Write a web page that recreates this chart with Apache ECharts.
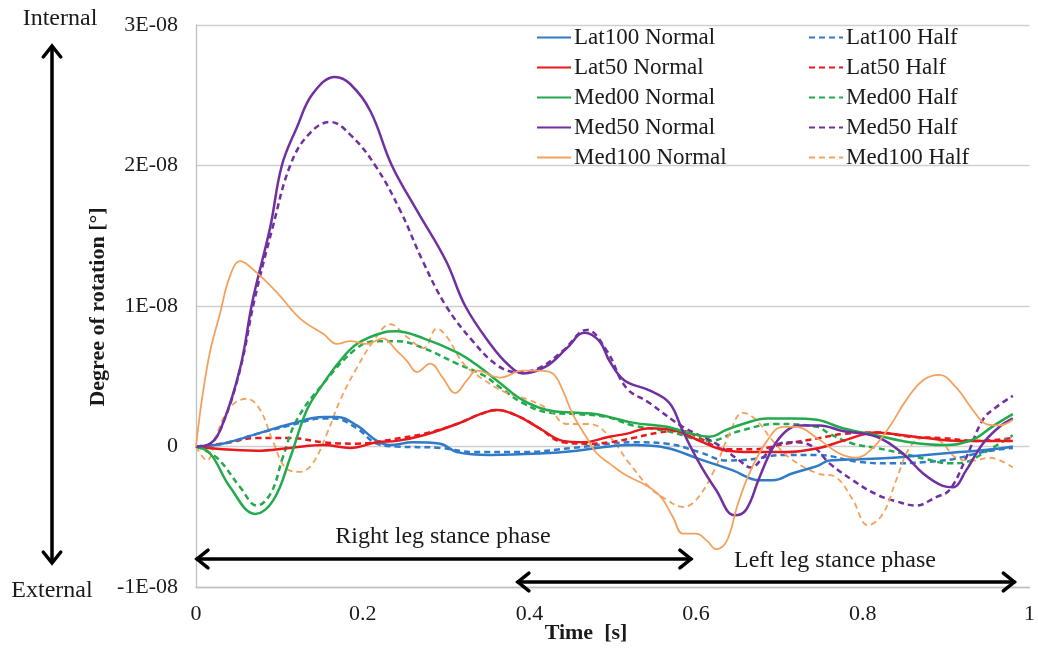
<!DOCTYPE html>
<html>
<head>
<meta charset="utf-8">
<script src="https://cdn.jsdelivr.net/npm/echarts@6/dist/echarts.min.js"></script>
<style>
html,body{margin:0;padding:0;background:#fff;}
#chart{width:1038px;height:650px;}
</style>
</head>
<body>
<div id="chart"></div>
<script>
// Values: time [s], rotation in units of 1E-08 degrees
const yTickLabels = ['-1E-08', '0', '1E-08', '2E-08', '3E-08'];
const xTickLabels = ['0', '0.2', '0.4', '0.6', '0.8', '1'];

const lat100Normal = [[0,0],[0.032,0.02],[0.073,0.09],[0.113,0.16],[0.153,0.21],[0.169,0.21],[0.193,0.15],[0.217,0.04],[0.233,0.01],[0.26,0.03],[0.293,0.02],[0.313,-0.04],[0.353,-0.06],[0.412,-0.05],[0.457,-0.03],[0.496,0.0],[0.524,0.01],[0.565,-0.01],[0.604,-0.09],[0.644,-0.17],[0.676,-0.24],[0.692,-0.24],[0.716,-0.19],[0.745,-0.14],[0.76,-0.10],[0.796,-0.09],[0.836,-0.08],[0.876,-0.06],[0.916,-0.04],[0.955,-0.02],[0.98,0.0]];
const lat100Half = [[0,0],[0.032,0.02],[0.073,0.09],[0.113,0.15],[0.153,0.20],[0.165,0.20],[0.193,0.13],[0.217,0.02],[0.241,0.0],[0.293,-0.01],[0.332,-0.04],[0.392,-0.04],[0.452,-0.01],[0.496,0.02],[0.524,0.03],[0.565,0.02],[0.604,-0.04],[0.637,-0.10],[0.668,-0.09],[0.704,-0.06],[0.745,-0.06],[0.796,-0.11],[0.836,-0.12],[0.876,-0.11],[0.908,-0.09],[0.944,-0.04],[0.98,-0.01]];
const lat50Normal = [[0,0],[0.032,-0.02],[0.073,-0.03],[0.113,-0.01],[0.153,0.01],[0.185,-0.01],[0.217,0.03],[0.241,0.04],[0.273,0.08],[0.313,0.16],[0.341,0.23],[0.361,0.26],[0.385,0.22],[0.412,0.13],[0.44,0.04],[0.464,0.03],[0.496,0.07],[0.516,0.09],[0.544,0.13],[0.577,0.11],[0.604,0.04],[0.637,-0.03],[0.668,-0.04],[0.708,-0.04],[0.748,-0.01],[0.776,0.04],[0.816,0.10],[0.848,0.08],[0.876,0.06],[0.916,0.04],[0.955,0.04],[0.98,0.04]];
const lat50Half = [[0,0],[0.032,0.02],[0.073,0.06],[0.113,0.06],[0.153,0.03],[0.193,0.02],[0.224,0.04],[0.245,0.06],[0.273,0.09],[0.313,0.16],[0.341,0.23],[0.361,0.26],[0.385,0.22],[0.412,0.13],[0.44,0.03],[0.472,0.02],[0.496,0.03],[0.524,0.06],[0.556,0.10],[0.584,0.11],[0.604,0.06],[0.637,-0.02],[0.668,-0.02],[0.708,0.02],[0.748,0.06],[0.776,0.09],[0.816,0.10],[0.856,0.07],[0.896,0.06],[0.936,0.04],[0.98,0.06]];
const med00Normal = [[0,0],[0.017,-0.05],[0.041,-0.29],[0.071,-0.48],[0.093,-0.38],[0.113,-0.08],[0.133,0.26],[0.153,0.45],[0.173,0.61],[0.193,0.73],[0.224,0.81],[0.24,0.82],[0.273,0.77],[0.313,0.67],[0.337,0.58],[0.365,0.45],[0.392,0.33],[0.421,0.26],[0.457,0.24],[0.481,0.23],[0.524,0.17],[0.565,0.14],[0.589,0.10],[0.616,0.07],[0.637,0.12],[0.656,0.16],[0.685,0.20],[0.716,0.20],[0.745,0.19],[0.776,0.13],[0.816,0.08],[0.856,0.03],[0.896,0.01],[0.916,0.02],[0.936,0.06],[0.955,0.14],[0.98,0.23]];
const med00Half = [[0,0],[0.025,-0.08],[0.053,-0.29],[0.073,-0.42],[0.09,-0.33],[0.104,-0.08],[0.121,0.19],[0.153,0.45],[0.193,0.70],[0.217,0.75],[0.241,0.75],[0.273,0.70],[0.313,0.59],[0.344,0.51],[0.365,0.42],[0.392,0.31],[0.424,0.24],[0.457,0.23],[0.493,0.21],[0.524,0.15],[0.565,0.11],[0.616,0.04],[0.652,0.11],[0.696,0.16],[0.745,0.14],[0.76,0.09],[0.788,0.02],[0.816,-0.01],[0.848,-0.05],[0.876,-0.09],[0.904,-0.12],[0.924,-0.11],[0.944,-0.05],[0.964,0.02],[0.98,0.08]];
const med50Normal = [[0,0],[0.017,0.02],[0.032,0.16],[0.053,0.56],[0.068,1.04],[0.089,1.56],[0.103,2.0],[0.121,2.27],[0.14,2.51],[0.167,2.63],[0.185,2.58],[0.209,2.39],[0.235,2.0],[0.265,1.68],[0.30,1.32],[0.323,1.0],[0.353,0.73],[0.375,0.58],[0.392,0.52],[0.42,0.57],[0.445,0.70],[0.466,0.81],[0.484,0.75],[0.496,0.61],[0.514,0.47],[0.544,0.40],[0.568,0.31],[0.584,0.11],[0.604,-0.12],[0.624,-0.31],[0.646,-0.49],[0.66,-0.45],[0.676,-0.22],[0.692,-0.01],[0.708,0.11],[0.724,0.15],[0.748,0.15],[0.776,0.11],[0.816,0.07],[0.848,-0.05],[0.872,-0.19],[0.896,-0.28],[0.908,-0.29],[0.924,-0.17],[0.944,0.02],[0.964,0.14],[0.98,0.20]];
const med50Half = [[0,0],[0.017,0.02],[0.032,0.16],[0.053,0.55],[0.07,1.04],[0.092,1.56],[0.113,2.0],[0.135,2.22],[0.161,2.31],[0.185,2.22],[0.215,2.0],[0.245,1.68],[0.272,1.32],[0.30,1.0],[0.332,0.75],[0.361,0.58],[0.385,0.53],[0.412,0.56],[0.44,0.68],[0.469,0.83],[0.493,0.68],[0.516,0.42],[0.544,0.31],[0.584,0.14],[0.624,0.02],[0.652,-0.10],[0.666,-0.15],[0.68,-0.08],[0.696,0.01],[0.716,0.03],[0.74,0.0],[0.76,-0.12],[0.788,-0.24],[0.816,-0.34],[0.84,-0.39],[0.864,-0.42],[0.888,-0.36],[0.904,-0.31],[0.924,-0.08],[0.944,0.19],[0.96,0.28],[0.98,0.36]];
const med100Normal = [[0,0],[0.007,0.33],[0.017,0.68],[0.029,0.95],[0.04,1.2],[0.053,1.32],[0.074,1.23],[0.098,1.09],[0.125,0.91],[0.153,0.80],[0.169,0.73],[0.185,0.75],[0.205,0.73],[0.224,0.77],[0.241,0.68],[0.253,0.61],[0.265,0.53],[0.281,0.59],[0.296,0.49],[0.311,0.38],[0.325,0.47],[0.337,0.54],[0.365,0.49],[0.392,0.54],[0.412,0.54],[0.428,0.52],[0.44,0.40],[0.452,0.23],[0.469,0.06],[0.481,-0.05],[0.496,-0.12],[0.512,-0.19],[0.553,-0.33],[0.572,-0.50],[0.584,-0.62],[0.60,-0.62],[0.613,-0.67],[0.624,-0.73],[0.637,-0.67],[0.649,-0.43],[0.664,-0.19],[0.685,0.04],[0.704,0.14],[0.72,0.14],[0.745,0.06],[0.772,-0.05],[0.792,-0.08],[0.812,-0.01],[0.832,0.14],[0.852,0.33],[0.872,0.47],[0.892,0.51],[0.912,0.42],[0.932,0.26],[0.948,0.16],[0.964,0.15],[0.98,0.19]];
const med100Half = [[0,0],[0.013,-0.10],[0.025,0.09],[0.041,0.28],[0.061,0.34],[0.077,0.26],[0.092,0.04],[0.109,-0.16],[0.125,-0.18],[0.14,-0.12],[0.157,0.09],[0.173,0.33],[0.193,0.56],[0.213,0.75],[0.233,0.87],[0.253,0.78],[0.273,0.70],[0.289,0.84],[0.301,0.78],[0.321,0.59],[0.344,0.48],[0.373,0.38],[0.40,0.33],[0.424,0.26],[0.445,0.16],[0.472,0.16],[0.493,0.09],[0.52,-0.12],[0.544,-0.29],[0.565,-0.38],[0.584,-0.43],[0.60,-0.38],[0.62,-0.19],[0.64,0.09],[0.656,0.24],[0.672,0.19],[0.692,0.04],[0.712,-0.08],[0.745,-0.19],[0.768,-0.22],[0.788,-0.38],[0.806,-0.56],[0.824,-0.48],[0.84,-0.24],[0.856,-0.01],[0.872,0.06],[0.892,0.04],[0.912,-0.08],[0.932,-0.10],[0.952,-0.08],[0.98,-0.15]];

const seriesNames = ['Lat100 Normal','Lat50 Normal','Med00 Normal','Med50 Normal','Med100 Normal',
                     'Lat100 Half','Lat50 Half','Med00 Half','Med50 Half','Med100 Half'];
const seriesData = [lat100Normal, lat50Normal, med00Normal, med50Normal, med100Normal,
                    lat100Half, lat50Half, med00Half, med50Half, med100Half];
const colors = ['#2F7BC8','#E8191D','#22AA4C','#7030A0','#F4A15C'];
const widths = [2.5, 2.5, 2.5, 2.5, 1.8];

const FONT = '"Liberation Serif", "Times New Roman", serif';

const chart = echarts.init(document.getElementById('chart'), null, {renderer: 'canvas'});

const series = seriesData.map((d, i) => {
  const k = i % 5;
  const dashed = i >= 5;
  return {
    name: seriesNames[i],
    type: 'line',
    data: d,
    smooth: 0.4,
    symbol: 'none',
    showSymbol: false,
    z: dashed ? 3 : 4,
    lineStyle: {color: colors[k], width: widths[k], type: dashed ? [6, 4] : 'solid'},
    itemStyle: {color: colors[k]},
    emphasis: {disabled: true}
  };
});

const legendCommon = {
  orient: 'vertical',
  top: 26,
  padding: 0,
  itemWidth: 34,
  itemHeight: 20,
  itemGap: 7,
  itemStyle: {opacity: 0},
  textStyle: {fontFamily: FONT, fontSize: 23, color: '#1a1a1a', padding: [0,0,0,-2]},
  selectedMode: false
};

const option = {
  animation: false,
  backgroundColor: '#fff',
  grid: {left: 196, right: 8, top: 25, bottom: 63, containLabel: false},
  legend: [
    Object.assign({}, legendCommon, {left: 536, data: seriesNames.slice(0,5)}),
    Object.assign({}, legendCommon, {left: 808, data: seriesNames.slice(5)})
  ],
  xAxis: {
    type: 'value', min: 0, max: 1, interval: 0.2,
    axisLine: {onZero: false, lineStyle: {color: '#bfbfbf', width: 1.3}},
    axisTick: {show: false},
    splitLine: {show: false},
    axisLabel: {fontFamily: FONT, fontSize: 22, color: '#1a1a1a', margin: 16,
      formatter: v => xTickLabels[Math.round(v / 0.2)]}
  },
  yAxis: {
    type: 'value', min: -1, max: 3, interval: 1,
    axisLine: {show: true, lineStyle: {color: '#bfbfbf', width: 1.3}},
    axisTick: {show: false},
    splitLine: {lineStyle: {color: '#cfcfcf', width: 1.3}},
    axisLabel: {fontFamily: FONT, fontSize: 22, color: '#1a1a1a', margin: 18,
      formatter: v => yTickLabels[Math.round(v) + 1]}
  },
  series: series
};
chart.setOption(option);

function chevron(x, y, dir, size, vertical) {
  if (!vertical) {
    return [[x - dir * size, y - size * 0.8], [x, y], [x - dir * size, y + size * 0.8]];
  }
  return [[x - size * 0.8, y - dir * size], [x, y], [x + size * 0.8, y - dir * size]];
}
const stroke = {stroke: '#000', lineWidth: 3.5, lineCap: 'round', lineJoin: 'miter', fill: null};

function hArrow(t0, t1, py) {
  const x0 = chart.convertToPixel({gridIndex: 0}, [t0, 0])[0];
  const x1 = chart.convertToPixel({gridIndex: 0}, [t1, 0])[0];
  return [
    {type: 'line', shape: {x1: x0 + 1, y1: py, x2: x1 - 1, y2: py}, style: stroke, z: 10},
    {type: 'polyline', shape: {points: chevron(x0 + 1, py, -1, 11, false)}, style: stroke, z: 10},
    {type: 'polyline', shape: {points: chevron(x1 - 1, py, 1, 11, false)}, style: stroke, z: 10}
  ];
}

const txt = (text, x, y, extra) => ({
  type: 'text', x: x, y: y, z: 10,
  style: Object.assign({text: text, fontFamily: FONT, fontSize: 24, fill: '#1a1a1a', align: 'center', verticalAlign: 'middle'}, extra || {})
});

const graphics = []
  .concat(hArrow(0, 0.595, 559))
  .concat(hArrow(0.385, 0.983, 582))
  .concat([
    {type: 'line', shape: {x1: 52, y1: 47, x2: 52, y2: 562}, style: stroke, z: 10},
    {type: 'polyline', shape: {points: chevron(52, 46, -1, 11, true)}, style: stroke, z: 10},
    {type: 'polyline', shape: {points: chevron(52, 563, 1, 11, true)}, style: stroke, z: 10},
    txt('Internal', 60, 19),
    txt('External', 52, 591),
    txt('Right leg stance phase', 443, 537),
    txt('Left leg stance phase', 835, 561),
    txt('Time  [s]', 586, 633, {fontWeight: 'bold', fontSize: 22}),
    Object.assign(txt('Degree of rotation [°]', 98, 307, {fontWeight: 'bold', fontSize: 22}), {rotation: Math.PI / 2})
  ]);

chart.setOption({graphic: graphics});
</script>
</body>
</html>
